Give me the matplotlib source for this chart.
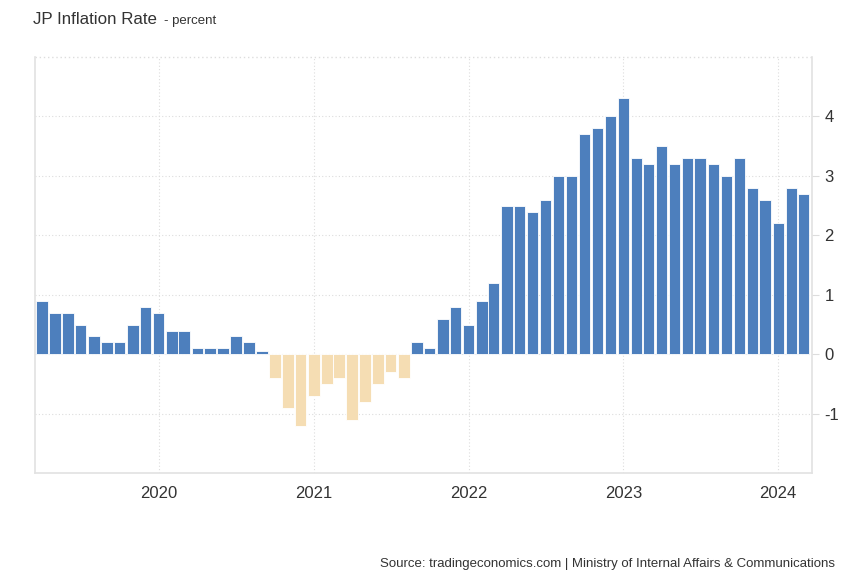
"""
JP inflation rate, monthly bars (Apr 2019 - Mar 2024).
"""

from matplotlib import pyplot as plt
from matplotlib import dates as mdates
import pandas as pd

# data
months = pd.date_range("2019-04-01", "2024-03-01", freq="MS")
inflation = [
    0.9, 0.7, 0.7, 0.5, 0.3, 0.2, 0.2, 0.5, 0.8,              # 2019 Apr-Dec
    0.7, 0.4, 0.4, 0.1, 0.1, 0.1, 0.3, 0.2, 0.05, -0.4, -0.9, -1.2,  # 2020
    -0.7, -0.5, -0.4, -1.1, -0.8, -0.5, -0.3, -0.4, 0.2, 0.1, 0.6, 0.8,  # 2021
    0.5, 0.9, 1.2, 2.5, 2.5, 2.4, 2.6, 3.0, 3.0, 3.7, 3.8, 4.0,  # 2022
    4.3, 3.3, 3.2, 3.5, 3.2, 3.3, 3.3, 3.2, 3.0, 3.3, 2.8, 2.6,  # 2023
    2.2, 2.8, 2.7,                                               # 2024 Jan-Mar
]
year_ticks = ["2020", "2021", "2022", "2023", "2024"]
y_ticks = [-1, 0, 1, 2, 3, 4]

POS_COLOR = "#4d7fbd"
NEG_COLOR = "#f5ddb3"
GRID_COLOR = "#dddddd"
TEXT_COLOR = "#333333"

plt.rcParams["font.family"] = ["Liberation Sans", "DejaVu Sans"]

fig = plt.figure(figsize=(8.5, 5.8), dpi=100)
ax = fig.add_axes([0.041, 0.184, 0.914, 0.718])

colors = [POS_COLOR if v >= 0 else NEG_COLOR for v in inflation]
ax.bar(months, inflation, width=27, color=colors, edgecolor="white",
       linewidth=0.6, zorder=3)

ax.set_xlim(pd.Timestamp("2019-03-15"), pd.Timestamp("2024-03-20"))
ax.set_ylim(-2, 5)

# axes, grid
ax.yaxis.tick_right()
ax.set_yticks(y_ticks)
ax.set_yticklabels([str(t) for t in y_ticks])
ax.set_xticks([pd.Timestamp(f"{y}-01-01") for y in year_ticks])
ax.xaxis.set_major_formatter(mdates.DateFormatter("%Y"))
ax.tick_params(axis="y", length=5, width=0.8, color=GRID_COLOR, pad=4,
               labelsize=12, labelcolor=TEXT_COLOR)
ax.tick_params(axis="x", length=0, pad=9, labelsize=12, labelcolor=TEXT_COLOR)

ax.grid(True, linestyle=(0, (1, 2)), color=GRID_COLOR, linewidth=0.8, zorder=0)
ax.axhline(5, linestyle=(0, (1, 2)), color=GRID_COLOR, linewidth=1.0, zorder=0,
           clip_on=False)

for side in ["left", "right", "bottom"]:
    ax.spines[side].set_color("#e2e2e2")
    ax.spines[side].set_linewidth(1.2)
ax.spines["top"].set_visible(False)

# title and source
fig.text(0.039, 0.958, "JP Inflation Rate", fontsize=12.2, color=TEXT_COLOR,
         va="baseline")
fig.text(0.193, 0.958, "- percent", fontsize=9.5, color=TEXT_COLOR,
         va="baseline")
fig.text(0.982, 0.023,
         "Source: tradingeconomics.com | Ministry of Internal Affairs & Communications",
         fontsize=9.5, color=TEXT_COLOR, ha="right", va="baseline")

fig.savefig("out.png", dpi=100)
